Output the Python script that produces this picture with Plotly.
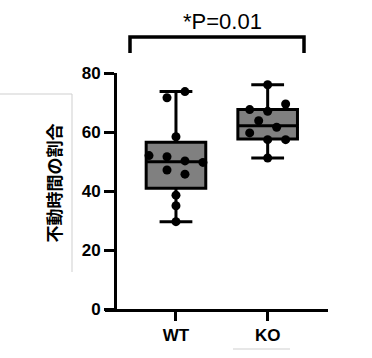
import plotly.graph_objects as go

# ---------------- data ----------------
categories = ["WT", "KO"]
wt_values = [71.6, 73.7, 58.4, 52.0, 51.6, 50.2, 49.7, 47.1, 45.7, 38.6, 35.0, 29.6]
ko_values = [76.0, 67.6, 67.0, 69.5, 63.8, 61.6, 59.7, 57.4, 57.4, 51.2]
# box summaries: min, Q1, median, Q3, max
wt_box = [29.6, 40.9, 49.9, 56.5, 73.7]
ko_box = [51.2, 57.6, 62.1, 67.6, 76.0]
y_ticks = [0, 20, 40, 60, 80]
y_title = "不動時間の割合"
p_label = "*P=0.01"

# ---------------- layout geometry ----------------
W, H = 372, 358
L, R, T, B = 105, 328, 73, 309   # plot area in pixels
X_RANGE = [-0.774, 1.658]
Y_RANGE = [0, 80]


def px_x(px):
    return (px - L) / (R - L)


def px_y(py):
    return (B - py) / (B - T)


def swarm_offsets(values, spacing=0.196, row_gap=3.0):
    order = sorted(range(len(values)), key=lambda i: -values[i])
    rows, cur = [], []
    for i in order:
        if cur and values[cur[0]] - values[i] > row_gap:
            rows.append(cur)
            cur = []
        cur.append(i)
    if cur:
        rows.append(cur)
    off = [0.0] * len(values)
    for row in rows:
        row = sorted(row)
        n = len(row)
        for k, i in enumerate(row):
            off[i] = (k - (n - 1) / 2) * spacing
    return off


fig = go.Figure()

BOX_FILL = "#808080"
for xi, stats in enumerate([wt_box, ko_box]):
    fig.add_trace(go.Box(
        x=[xi], lowerfence=[stats[0]], q1=[stats[1]], median=[stats[2]],
        q3=[stats[3]], upperfence=[stats[4]],
        width=0.65, whiskerwidth=0.55, fillcolor=BOX_FILL,
        line=dict(color="black", width=3), boxpoints=False,
        hoverinfo="skip", showlegend=False,
    ))

for xi, vals in enumerate([wt_values, ko_values]):
    offs = swarm_offsets(vals)
    fig.add_trace(go.Scatter(
        x=[xi + o for o in offs], y=vals, mode="markers",
        marker=dict(color="black", size=9, line=dict(width=0)),
        showlegend=False, hoverinfo="skip", cliponaxis=False,
    ))

tickfont = dict(family="Liberation Sans, Arial, sans-serif", size=17, color="black", weight="bold")

fig.update_layout(
    width=W, height=H,
    margin=dict(l=L, r=W - R, t=T, b=H - B, pad=0),
    paper_bgcolor="white", plot_bgcolor="white",
    showlegend=False,
    xaxis=dict(
        range=X_RANGE, tickvals=[0, 1], ticktext=categories,
        showline=True, linewidth=3, linecolor="black",
        ticks="outside", ticklen=9, tickwidth=3, tickcolor="black",
        tickfont=tickfont, showgrid=False, zeroline=False,
    ),
    yaxis=dict(
        range=Y_RANGE, tickvals=y_ticks,
        anchor="free", position=px_x(115),
        showline=True, linewidth=3, linecolor="black",
        ticks="outside", ticklen=10, tickwidth=3, tickcolor="black",
        tickfont=tickfont, showgrid=False, zeroline=False,
    ),
)

# y-axis title
fig.add_annotation(
    text=y_title, xref="paper", yref="paper", x=px_x(53), y=px_y(183.5),
    textangle=-90, showarrow=False, xanchor="center", yanchor="middle",
    font=dict(family="Noto Sans CJK JP", size=17, color="black", weight="bold"),
)

# significance bracket and label
fig.add_shape(
    type="path", xref="paper", yref="paper",
    path=f"M {px_x(130)},{px_y(53)} L {px_x(130)},{px_y(37)} L {px_x(304)},{px_y(37)} L {px_x(304)},{px_y(53)}",
    line=dict(color="black", width=3.5),
)
fig.add_annotation(
    text=p_label, xref="paper", yref="paper", x=px_x(222), y=px_y(22),
    showarrow=False, xanchor="center", yanchor="middle",
    font=dict(family="Liberation Sans, Arial, sans-serif", size=22, color="black"),
)

# faint grey crop lines present in the reference image
fig.add_shape(
    type="path", xref="paper", yref="paper",
    path=f"M {px_x(0)},{px_y(94)} L {px_x(72)},{px_y(94)} L {px_x(72)},{px_y(272)}",
    line=dict(color="#cfcfcf", width=1),
)
fig.add_shape(
    type="line", xref="paper", yref="paper",
    x0=px_x(233), x1=px_x(290), y0=px_y(349), y1=px_y(349),
    line=dict(color="#cfcfcf", width=1),
)

fig.write_html(
    "out.html",
    config={"displayModeBar": False, "staticPlot": True},
    post_script="document.body.style.margin='0';document.body.style.overflow='hidden';",
)
